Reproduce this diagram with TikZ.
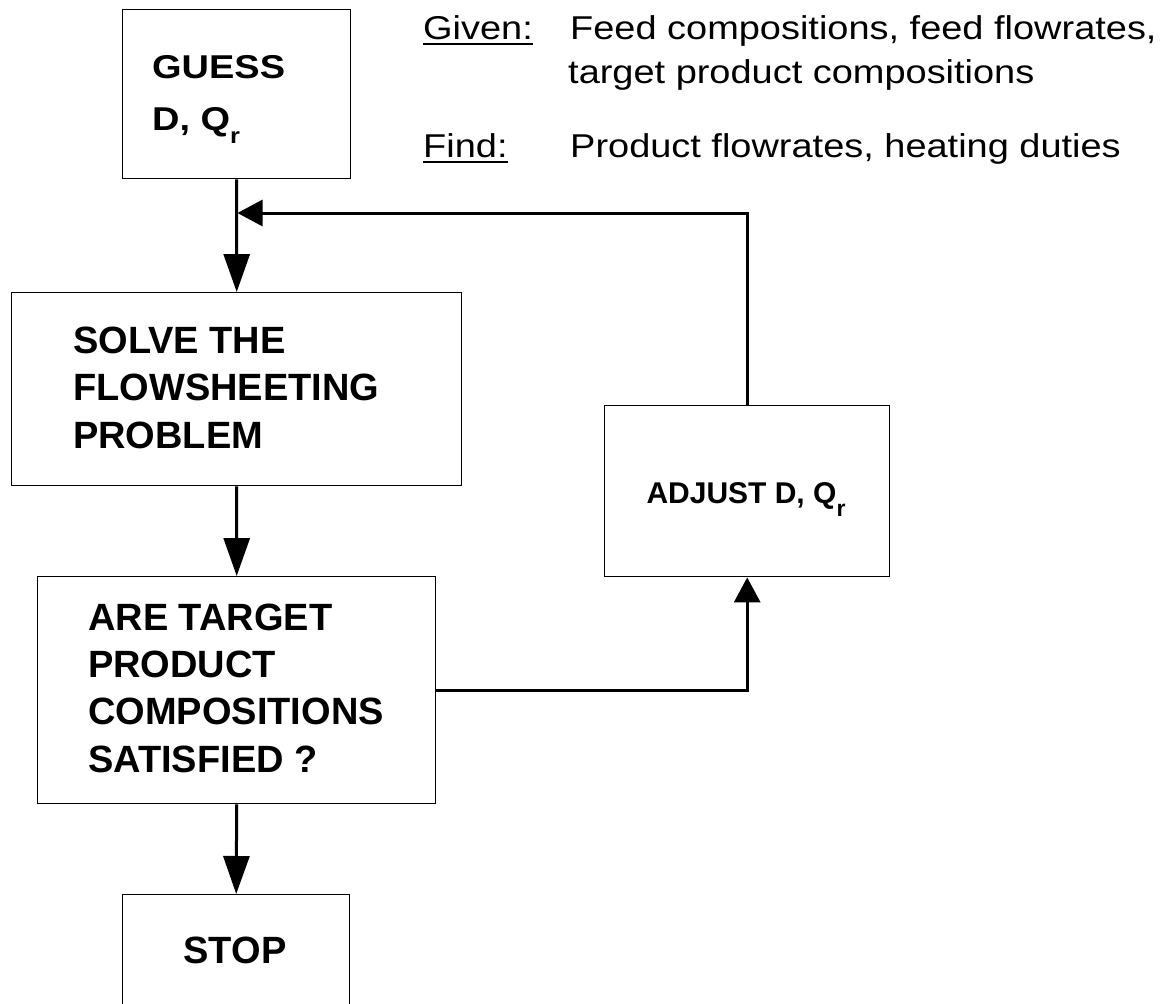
\documentclass[tikz,border=0pt]{standalone}
\usepackage{fontspec}
\setmainfont{Liberation Sans}
% slightly widened sans for the note text and the first box
\newfontfamily\widesans[FakeStretch=1.15]{Liberation Sans}
\usetikzlibrary{arrows.meta}

% lowered small "r" used as subscript: #1 size, #2 drop
\newcommand\lowr[2]{\raisebox{-#2}{\fontsize{#1}{#1}\selectfont r}}

\begin{document}
\begin{tikzpicture}[x=1bp, y=-1bp,
  box/.style={draw, line width=1.4bp, inner sep=0pt, anchor=north west},
  flow/.style={line width=3bp, -{Triangle[length=38bp,width=26bp]}},
  back/.style={line width=3bp, -{Triangle[length=25bp,width=26bp]}},
  boxtext/.style={anchor=base west, inner sep=0pt,
    font=\bfseries\fontsize{38bp}{46bp}\selectfont},
  guesstext/.style={anchor=base west, inner sep=0pt,
    font=\widesans\bfseries\fontsize{33bp}{40bp}\selectfont},
  note/.style={anchor=base west, inner sep=0pt,
    font=\widesans\fontsize{33bp}{40bp}\selectfont}
]
\clip (0,0) rectangle (1167,1004);

% boxes
\node[box, minimum width=228bp, minimum height=169bp] (guess)  at (122,9)   {};
\node[box, minimum width=450bp, minimum height=193bp] (solve)  at (11,292)  {};
\node[box, minimum width=398bp, minimum height=227bp] (check)  at (37,576)  {};
\node[box, minimum width=285bp, minimum height=171bp] (adjust) at (604,405) {};
\node[box, minimum width=227bp, minimum height=130bp] (stop)   at (122,894) {};

% box texts
\node[guesstext] (guessA) at (152,78)  {GUESS};
\node[guesstext] (guessB) at (152,130) {D, Q\lowr{22bp}{13bp}};

\node[boxtext] (solveA) at (73,353) {SOLVE THE};
\node[boxtext] (solveB) at (73,400) {FLOWSHEETING};
\node[boxtext] (solveC) at (73,448) {PROBLEM};

\node[boxtext] (checkA) at (88,630) {ARE TARGET};
\node[boxtext] (checkB) at (88,677) {PRODUCT};
\node[boxtext] (checkC) at (88,724) {COMPOSITIONS};
\node[boxtext] (checkD) at (88,772) {SATISFIED ?};

\node[anchor=base, inner sep=0pt, font=\bfseries\fontsize{30bp}{36bp}\selectfont]
  (adjustA) at (746,503) {ADJUST D, Q\lowr{23bp}{13bp}};

\node[anchor=base, inner sep=0pt, font=\bfseries\fontsize{38bp}{46bp}\selectfont]
  (stopA) at (235,963) {STOP};

% problem statement
\node[note] (given) at (423,39)  {Given:};
\node[note] (feedA) at (570,39)  {Feed compositions, feed flowrates,};
\node[note] (feedB) at (568,83)  {target product compositions};
\node[note] (find)  at (423,157) {Find:};
\node[note] (want)  at (570,157) {Product flowrates, heating duties};
\draw[line width=2bp] ([yshift=-4.5bp]given.base west) -- ([yshift=-4.5bp]given.base east);
\draw[line width=2bp] ([yshift=-4.5bp]find.base west) -- ([yshift=-4.5bp]find.base east);

% connectors
\draw[flow] (guess.south) -- (solve.north);
\draw[flow] (solve.south) -- (check.north);
\draw[flow] (check.south) -- (stop.north);
\coordinate (merge) at (237.5,213);
\draw[back] (adjust.north) |- (merge);
\draw[back] (check.east) -| (adjust.south);
\end{tikzpicture}
\end{document}
